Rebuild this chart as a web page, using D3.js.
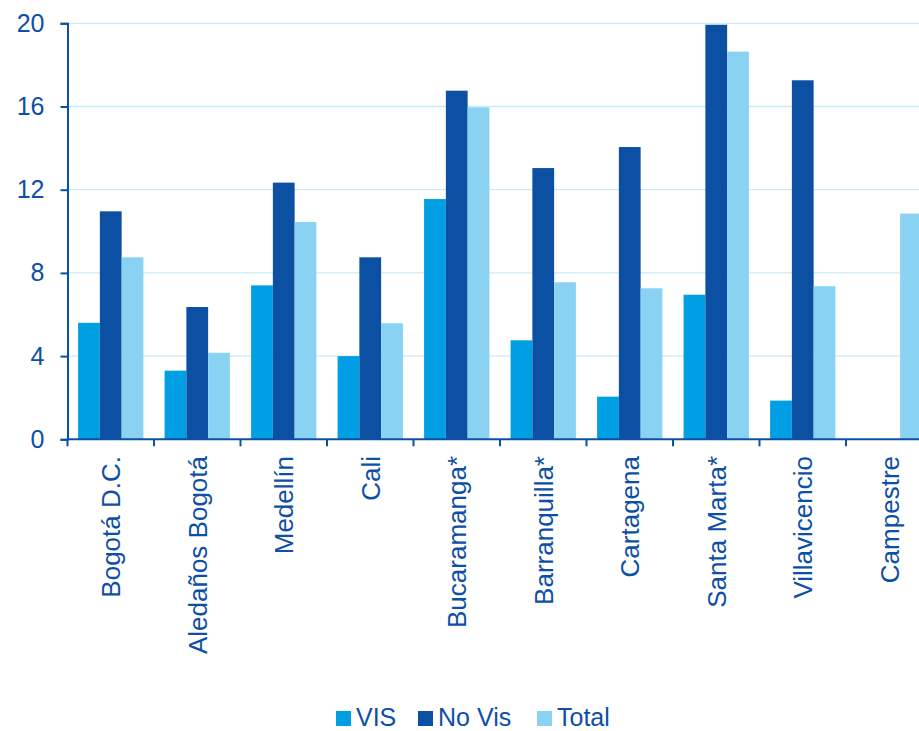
<!DOCTYPE html>
<html>
<head>
<meta charset="utf-8">
<script src="https://cdn.jsdelivr.net/npm/d3@7"></script>
<style>
  body { margin: 0; background: #fff; overflow: hidden; }
  svg { display: block; font-family: "Liberation Sans", Arial, sans-serif; }
</style>
</head>
<body>
<div id="chart"></div>
<script>
const categories = ["Bogotá D.C.", "Aledaños Bogotá", "Medellín", "Cali", "Bucaramanga*",
  "Barranquilla*", "Cartagena", "Santa Marta*", "Villavicencio", "Campestre"];
const seriesNames = ["VIS", "No Vis", "Total"];
const visValues   = [5.6, 3.3, 7.4, 4.0, 11.55, 4.76, 2.05, 6.95, 1.86, 0];
const noVisValues = [10.96, 6.36, 12.34, 8.75, 16.76, 13.04, 14.05, 19.93, 17.26, 0];
const totalValues = [8.75, 4.16, 10.45, 5.58, 15.96, 7.55, 7.26, 18.64, 7.36, 10.85];
const yTicks = [0, 4, 8, 12, 16, 20];

const colors = ["#009fe3", "#0b50a3", "#8ad2f2"];
const textColor = "#0d4fa6";

const width = 919, height = 731;
const plotLeft = 67.5, plotRight = 932.5, plotTop = 23.3, plotBottom = 439.3;

const svg = d3.select("#chart").append("svg")
    .attr("width", width)
    .attr("height", height);

const x0 = d3.scaleBand().domain(categories).range([plotLeft, plotRight]).padding(0);
const x1 = d3.scaleBand().domain(seriesNames)
    .range([10.6, x0.bandwidth() - 10.6]).padding(0);
const y = d3.scaleLinear().domain([0, 20]).range([plotBottom, plotTop]);

// gridlines
svg.append("g")
  .selectAll("line")
  .data(yTicks.filter(d => d > 0))
  .join("line")
    .attr("x1", plotLeft).attr("x2", width)
    .attr("y1", d => y(d)).attr("y2", d => y(d))
    .attr("stroke", "#c8eaf9")
    .attr("stroke-width", 1.3);

const rows = categories.map((c, i) => ({
  cat: c,
  vals: [visValues[i], noVisValues[i], totalValues[i]]
}));

const groups = svg.append("g")
  .selectAll("g")
  .data(rows)
  .join("g")
    .attr("transform", d => `translate(${x0(d.cat)},0)`);

groups.selectAll("rect")
  .data(d => d.vals.map((v, j) => ({ key: seriesNames[j], v: v, j: j })))
  .join("rect")
    .attr("x", d => x1(d.key))
    .attr("width", x1.bandwidth())
    .attr("y", d => y(d.v))
    .attr("height", d => y(0) - y(d.v))
    .attr("fill", d => colors[d.j]);

// y axis
const yAxis = d3.axisLeft(y).tickValues(yTicks).tickSize(7).tickPadding(16);
const gy = svg.append("g")
    .attr("transform", `translate(${plotLeft},0)`)
    .call(yAxis);
gy.select(".domain").attr("stroke", "#0b50a3").attr("stroke-width", 2);
gy.selectAll(".tick line").attr("stroke", "#0b50a3").attr("stroke-width", 2);
gy.selectAll(".tick text")
    .attr("fill", textColor)
    .attr("font-size", 25);

// x axis
svg.append("line")
    .attr("x1", plotLeft).attr("x2", width)
    .attr("y1", plotBottom).attr("y2", plotBottom)
    .attr("stroke", "#0b50a3").attr("stroke-width", 2);

const boundaries = categories.map(c => x0(c)).concat([x0(categories[categories.length - 1]) + x0.bandwidth()]);
svg.append("g")
  .selectAll("line")
  .data(boundaries)
  .join("line")
    .attr("x1", d => d).attr("x2", d => d)
    .attr("y1", plotBottom).attr("y2", plotBottom + 7)
    .attr("stroke", "#0b50a3").attr("stroke-width", 2);

svg.append("g")
  .selectAll("text")
  .data(categories)
  .join("text")
    .attr("transform", d => `translate(${x0(d) + x0.bandwidth() / 2},456) rotate(-90)`)
    .attr("text-anchor", "end")
    .attr("dy", "0.36em")
    .attr("font-size", 26)
    .attr("fill", textColor)
    .text(d => d);

// legend
const legendItems = [
  { name: "VIS", x: 336 },
  { name: "No Vis", x: 418 },
  { name: "Total", x: 537 }
];
const lg = svg.append("g")
  .selectAll("g")
  .data(legendItems)
  .join("g")
    .attr("transform", d => `translate(${d.x},0)`);
lg.append("rect")
    .attr("x", 0).attr("y", 711)
    .attr("width", 15).attr("height", 15)
    .attr("fill", (d, i) => colors[i]);
lg.append("text")
    .attr("x", 20).attr("y", 725.5)
    .attr("font-size", 25)
    .attr("fill", textColor)
    .text(d => d.name);
</script>
</body>
</html>
